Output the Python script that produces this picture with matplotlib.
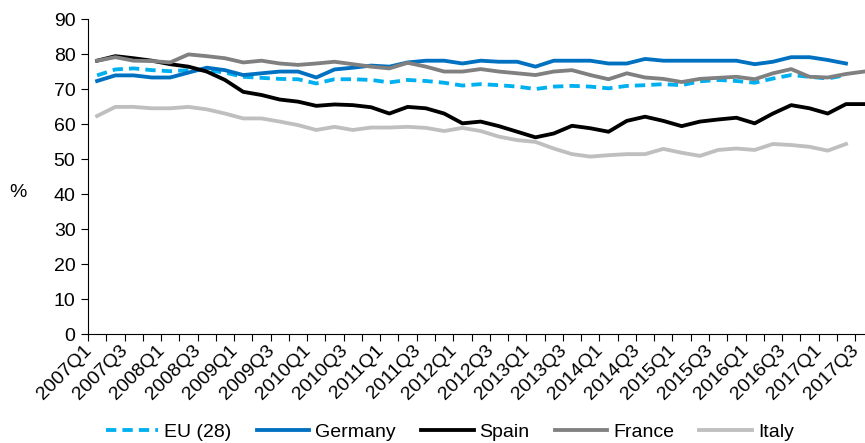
import matplotlib.pyplot as plt
from matplotlib.transforms import ScaledTranslation

plt.rcParams['font.family'] = ['Liberation Sans', 'DejaVu Sans']

# quarterly series, 2007Q1 .. 2017Q3
quarters = [f"{y}Q{q}" for y in range(2007, 2018) for q in range(1, 5)][:43]

eu28 = [73.9, 75.6, 75.9, 75.4, 75.1, 75.4, 75.4, 74.7, 73.5, 73.2,
        72.9, 72.8, 71.6, 72.8, 72.8, 72.6, 71.9, 72.6, 72.3, 71.8,
        71.0, 71.4, 71.1, 70.7, 70.0, 70.7, 70.9, 70.7, 70.2, 70.9,
        71.1, 71.4, 71.1, 72.2, 72.6, 72.3, 71.8, 73.0, 74.0, 73.5,
        73.0, 74.0]
germany = [72.3, 73.9, 73.9, 73.3, 73.3, 74.7, 76.1, 75.4, 74.0, 74.5,
           75.0, 75.0, 73.3, 75.6, 76.1, 76.7, 76.4, 77.6, 78.1, 78.1,
           77.3, 78.1, 77.8, 77.8, 76.4, 78.1, 78.1, 78.1, 77.3, 77.3,
           78.6, 78.1, 78.1, 78.1, 78.1, 78.1, 77.1, 77.8, 79.1, 79.1,
           78.3, 77.3]
spain = [78.1, 79.4, 78.8, 78.1, 77.1, 76.4, 75.0, 72.6, 69.2, 68.3,
         67.0, 66.4, 65.2, 65.6, 65.4, 64.8, 63.0, 64.9, 64.5, 63.0,
         60.2, 60.7, 59.4, 57.8, 56.2, 57.3, 59.5, 58.8, 57.8, 60.9,
         62.1, 60.9, 59.4, 60.7, 61.3, 61.8, 60.2, 63.0, 65.4, 64.5,
         63.0, 65.7, 65.7]
france = [78.1, 79.1, 78.1, 78.0, 77.6, 79.9, 79.4, 78.8, 77.6, 78.1,
          77.3, 76.9, 77.3, 77.8, 77.1, 76.4, 75.9, 77.5, 76.4, 75.0,
          75.0, 75.7, 75.0, 74.5, 74.0, 75.0, 75.4, 74.0, 72.8, 74.5,
          73.3, 72.9, 72.0, 72.9, 73.2, 73.5, 72.8, 74.5, 75.7, 73.5,
          73.3, 74.3, 75.0]
italy = [62.3, 64.9, 64.9, 64.5, 64.5, 64.9, 64.2, 63.0, 61.6, 61.6,
         60.7, 59.7, 58.3, 59.2, 58.3, 59.0, 59.0, 59.2, 58.9, 58.0,
         58.9, 58.0, 56.4, 55.4, 54.9, 53.0, 51.4, 50.7, 51.1, 51.4,
         51.4, 52.9, 51.8, 50.9, 52.6, 53.0, 52.6, 54.3, 54.0, 53.5,
         52.4, 54.3]

series = [
    ("EU (28)", eu28, "#00B0F0", (0, (2.7, 1.6))),
    ("Germany", germany, "#0070C0", "-"),
    ("Spain", spain, "#000000", "-"),
    ("France", france, "#808080", "-"),
    ("Italy", italy, "#BFBFBF", "-"),
]

fs = 14

fig = plt.figure(figsize=(8.65, 4.43), dpi=100)
ax = fig.add_axes([0.1017, 0.246, 0.908, 0.711])

for name, vals, col, ls in series:
    ax.plot(range(len(vals)), vals, color=col, linestyle=ls, lw=2.75,
            label=name, solid_joinstyle="round")

ax.set_xlim(-0.5, 42.5)
ax.set_ylim(0, 90)
ax.set_yticks(range(0, 91, 10))
ax.tick_params(axis="y", labelsize=fs, length=5, width=0.8, pad=4)

# tick marks between quarters, labels every other quarter
ax.set_xticks([i - 0.5 for i in range(44)])
ax.set_xticklabels([])
ax.tick_params(axis="x", which="major", length=5, width=0.8)
ax.set_xticks(range(0, 43, 2), minor=True)
ax.set_xticklabels(quarters[::2], minor=True, rotation=45, ha="right",
                   va="baseline", rotation_mode="anchor", fontsize=fs)
ax.tick_params(axis="x", which="minor", length=0, pad=12)

# nudge the slanted labels a little left so the last one stays inside
nudge = ScaledTranslation(-5 / 100, 0, fig.dpi_scale_trans)
for lbl in ax.get_xticklabels(minor=True):
    lbl.set_transform(lbl.get_transform() + nudge)

for s in ("top", "right"):
    ax.spines[s].set_visible(False)
for s in ("left", "bottom"):
    ax.spines[s].set_linewidth(0.8)

ax.set_ylabel("%", rotation=0, fontsize=fs, va="center", ha="center")
ax.yaxis.set_label_coords(-0.089, 0.45)

fig.legend(loc="lower center", bbox_to_anchor=(0.52, -0.035), ncol=5,
           frameon=False, fontsize=fs, handlelength=2.7, handletextpad=0.3,
           columnspacing=1.3)

fig.savefig("out.png", dpi=100)
